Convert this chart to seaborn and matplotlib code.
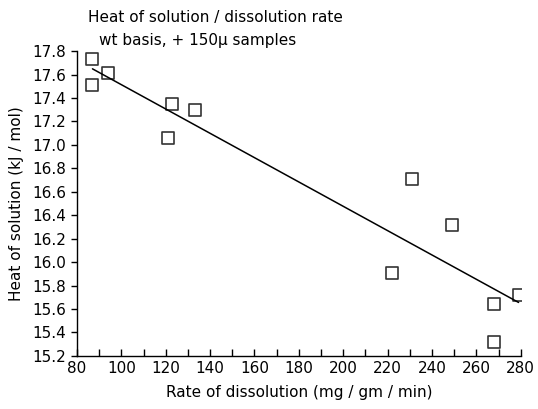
import matplotlib
matplotlib.use("Agg")
import matplotlib.pyplot as plt
import seaborn as sns
import numpy as np
import pandas as pd

# values
rate = [87, 87, 94, 121, 123, 133, 222, 231, 249, 268, 279, 268]
heat = [17.73, 17.51, 17.61, 17.06, 17.35, 17.30, 15.91, 16.71, 16.32, 15.64, 15.72, 15.32]
x_ticks = list(range(80, 281, 20))
x_minor = list(range(80, 281, 10))
y_ticks = [round(15.2 + 0.2 * i, 1) for i in range(14)]

df = pd.DataFrame({"rate": rate, "heat": heat})

sns.set_style("ticks", {"text.color": "black", "axes.labelcolor": "black",
                        "xtick.color": "black", "ytick.color": "black",
                        "axes.edgecolor": "black"})
plt.rcParams['font.family'] = ['DejaVu Sans']

fig = plt.figure(figsize=(5.38, 4.09), dpi=100)
ax = fig.add_axes([0.143, 0.13, 0.825, 0.745])

sns.regplot(data=df, x="rate", y="heat", ax=ax, ci=None, truncate=True,
            marker="s",
            scatter_kws=dict(s=75, facecolors="white", edgecolors="black", linewidths=1.2),
            line_kws=dict(color="black", lw=1.1))

ax.set_xlim(80, 280)
ax.set_ylim(15.2, 17.8)
ax.set_xticks(x_ticks)
ax.set_xticks(x_minor, minor=True)
ax.set_yticks(y_ticks)
ax.set_yticklabels([f"{v:.1f}" for v in y_ticks])
ax.tick_params(axis="x", which="both", direction="in", length=5, width=1, labelsize=11, pad=4)
ax.tick_params(axis="y", direction="out", length=4, width=1, labelsize=11)
sns.despine(ax=ax)
for s in ("left", "bottom"):
    ax.spines[s].set_linewidth(1)

ax.set_xlabel("Rate of dissolution (mg / gm / min)", fontsize=11, labelpad=6)
ax.set_ylabel("Heat of solution (kJ / mol)", fontsize=11, labelpad=6)
fig.text(0.40, 0.945, "Heat of solution / dissolution rate", ha="center", fontsize=11)
fig.text(0.368, 0.89, "wt basis, + 150\u03bc samples", ha="center", fontsize=11)

fig.savefig("out.png", dpi=100)
